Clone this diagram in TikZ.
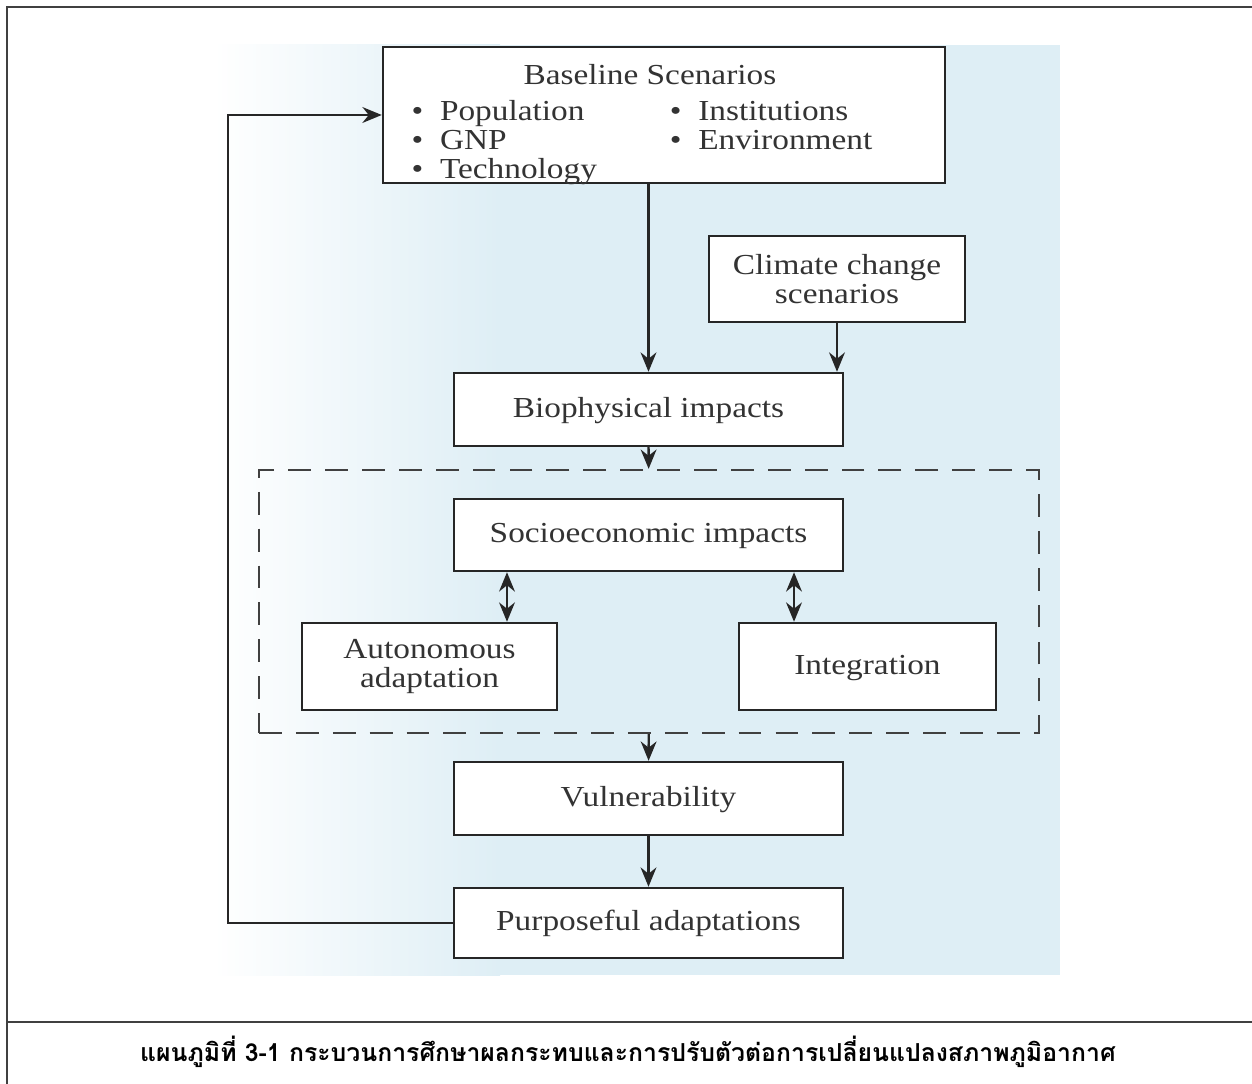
\documentclass[tikz,border=0pt]{standalone}
\usepackage{fontspec}
\setmainfont[FakeStretch=1.15]{Liberation Serif}
\newfontfamily\thaifont[Script=Thai]{Loma}
\usetikzlibrary{arrows.meta}

\definecolor{panelblue}{RGB}{222,238,245}

\tikzset{
  box/.style={draw=black!85,line width=1.4pt,fill=white,text=black!80,
    align=center,inner sep=0pt,font=\fontsize{16.5}{16.5}\selectfont},
  oneline/.style={box,text height=1.1em,text depth=0.22em},
  arr/.style={-{Stealth[length=11pt,width=9pt]},line width=1.3pt,draw=black!85},
  both/.style={{Stealth[length=11pt,width=9pt]}-{Stealth[length=11pt,width=9pt]},
    line width=1.3pt,draw=black!85},
  frame/.style={line width=1.1pt,draw=black!75}
}

\begin{document}
\begin{tikzpicture}[x=0.02cm,y=-0.02cm]
  \useasboundingbox (0,0) rectangle (1252,1084);
  % page frame and caption rule
  \draw[frame] (1252,7) -- (7,7) -- (7,1084);
  \draw[frame] (7,1022) -- (1252,1022);
  % backdrop
  \shade[left color=white,right color=panelblue] (213,45) rectangle (500,975);
  \fill[panelblue] (498,45) rectangle (1060,975);

  \node[box,minimum width=562*0.02cm,minimum height=136*0.02cm] (base) at (664,115) {};
  \node[text=black!80,inner sep=0pt,font=\fontsize{16.5}{16.5}\selectfont] (baselist) at (642,126)
    {\begin{tabular}{@{}p{135pt}l@{}}
      \multicolumn{2}{c}{\hspace{9pt}Baseline Scenarios}\\[4pt]
      \textbullet\ \ Population & \textbullet\ \ Institutions\\
      \textbullet\ \ GNP        & \textbullet\ \ Environment\\
      \textbullet\ \ Technology &
     \end{tabular}};
  \node[box,minimum width=256*0.02cm,minimum height=86*0.02cm] (clim) at (837,279)
    {Climate change\\scenarios};
  \node[oneline,minimum width=389*0.02cm,minimum height=73*0.02cm] (bio) at (648.5,409.5)
    {Biophysical impacts};
  \node[draw=black!75,line width=1.3pt,dash pattern=on 13pt off 8pt,
    minimum width=780*0.02cm,minimum height=263*0.02cm] (group) at (649,601.5) {};
  \node[oneline,minimum width=389*0.02cm,minimum height=72*0.02cm] (socio) at (648.5,535)
    {Socioeconomic impacts};
  \node[box,minimum width=255*0.02cm,minimum height=87*0.02cm] (auto) at (429.5,666.5)
    {Autonomous\\adaptation};
  \node[oneline,minimum width=257*0.02cm,minimum height=87*0.02cm] (integ) at (867.5,666.5)
    {Integration};
  \node[oneline,minimum width=389*0.02cm,minimum height=73*0.02cm] (vuln) at (648.5,798.5)
    {Vulnerability};
  \node[oneline,minimum width=389*0.02cm,minimum height=70*0.02cm] (purp) at (648.5,923)
    {Purposeful adaptations};

  % main flow
  \draw[arr] (base.south -| bio) -- (bio);
  \draw[arr] (clim) -- (clim |- bio.north);
  \draw[arr] (bio) -- (group);
  \draw[arr] (group) -- (vuln);
  \draw[arr] (vuln) -- (purp);
  % two-way links inside the group
  \coordinate (la) at ([xshift=1.55cm]auto.north);
  \coordinate (lb) at ([xshift=-1.47cm]integ.north);
  \draw[both] (la) -- (la |- socio.south);
  \draw[both] (lb) -- (lb |- socio.south);
  % feedback loop
  \coordinate (loop) at (228,0);
  \draw[arr] (purp.west) -- (purp.west -| loop) |- (base.west);

  \node[font=\thaifont\bfseries\fontsize{14.1}{16}\selectfont] (caption) at (628,1052)
    {แผนภูมิที่ 3-1 กระบวนการศึกษาผลกระทบและการปรับตัวต่อการเปลี่ยนแปลงสภาพภูมิอากาศ};
\end{tikzpicture}
\end{document}
